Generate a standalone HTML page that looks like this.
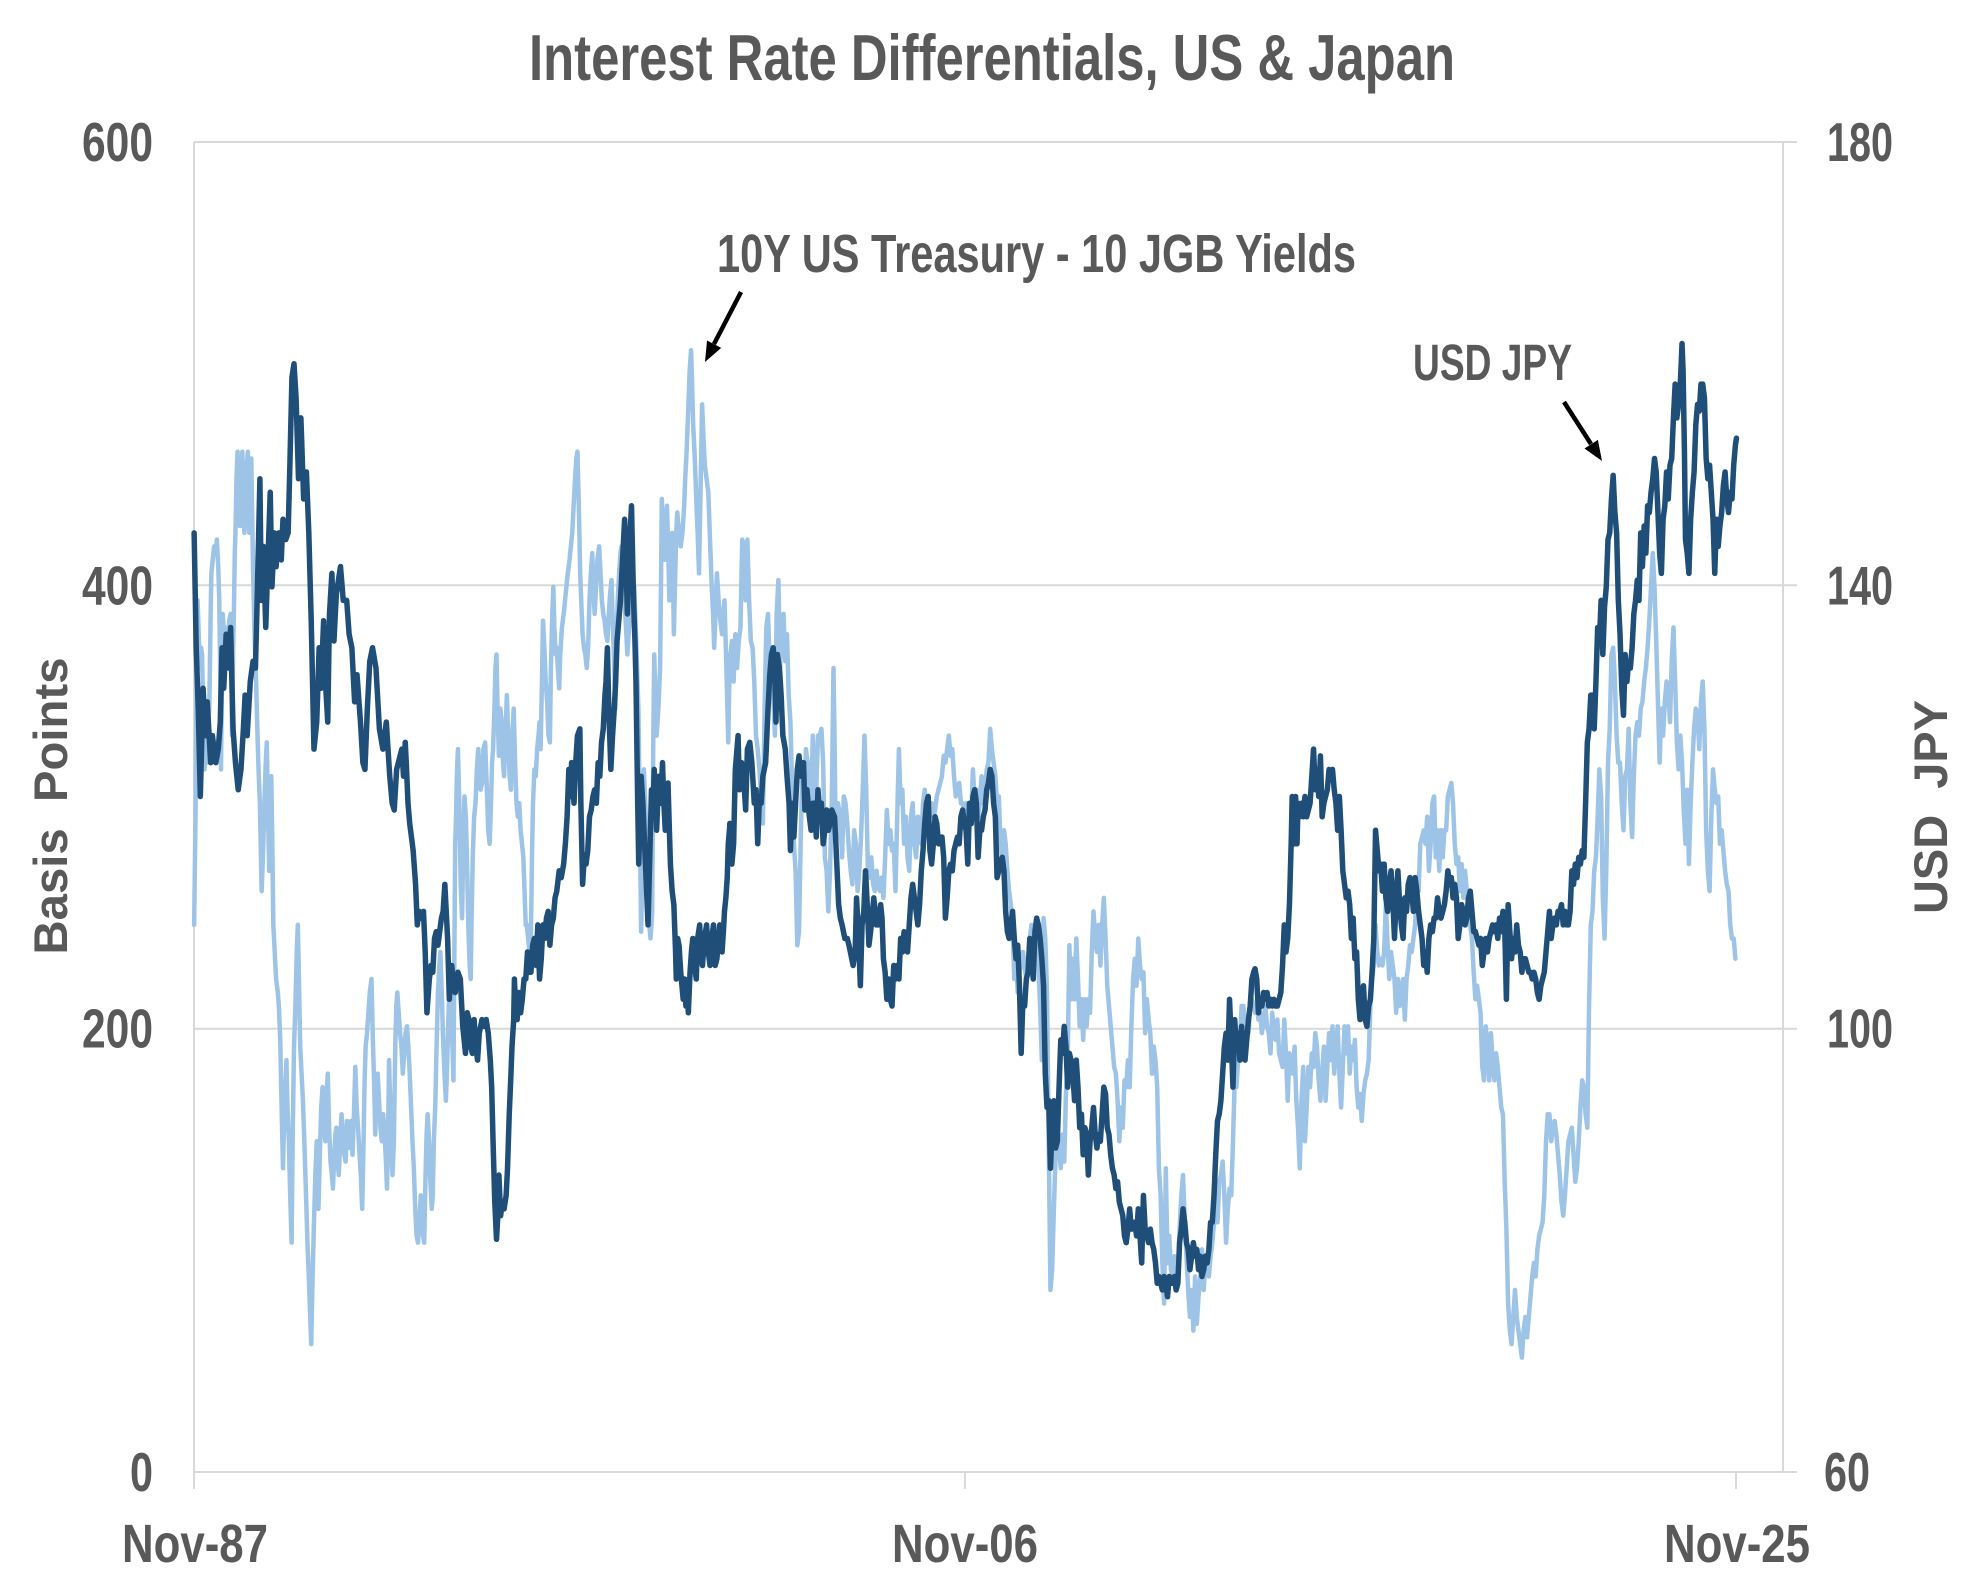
<!DOCTYPE html>
<html>
<head>
<meta charset="utf-8">
<style>
html,body{margin:0;padding:0;background:#fff;}
svg{display:block;}
text{font-family:"Liberation Sans Narrow","Liberation Sans",Arial,sans-serif;fill:#595959;font-weight:bold;}
.ax{font-family:"Liberation Sans",Arial,sans-serif;font-weight:bold;white-space:pre;}
</style>
</head>
<body>
<svg width="1978" height="1588" viewBox="0 0 1978 1588" xmlns="http://www.w3.org/2000/svg">
<rect width="1978" height="1588" fill="#fff"/>

<!-- gridlines and axes -->
<g stroke="#D9D9D9" stroke-width="2" fill="none">
<line x1="194" y1="142" x2="1797" y2="142"/>
<line x1="194" y1="585.3" x2="1797" y2="585.3"/>
<line x1="194" y1="1028.7" x2="1797" y2="1028.7"/>
<line x1="194" y1="1472" x2="1797" y2="1472"/>
<line x1="194" y1="142" x2="194" y2="1489"/>
<line x1="1783" y1="142" x2="1783" y2="1472"/>
<line x1="965" y1="1472" x2="965" y2="1489"/>
<line x1="1736" y1="1472" x2="1736" y2="1489"/>
</g>

<!-- light series: 10Y UST - JGB -->
<g fill="none" stroke="#9DC3E6" stroke-width="4.5" stroke-linejoin="round" stroke-linecap="round">
<g transform="translate(190,330) scale(0.344384,0.676048)">
<polyline vector-effect="non-scaling-stroke" points="12,880 16,720 20,450 22,400 26,460 28,500 32,470 35,480 38,560 42,650 46,600 50,640 53,580 56,560 60,420 62,360 66,340 70,320 74,330 78,310 82,350 85,400 88,520 90,650 93,500 95,420 99,450 102,440 106,500 110,470 114,430 118,420 120,500 122,600 125,480 128,400 130,330 132,300 135,220 138,180 142,260 145,290 148,230 152,180 155,260 158,300 160,270 162,250 165,200 168,180 170,230 172,300 175,240 178,190 180,260 183,350 186,420 188,460 192,520 195,580 199,650 203,700 206,780 208,830 211,790 213,760 216,700 220,640 223,610 226,700 230,800 233,740 236,660 239,760 242,880 246,920 250,960 255,980 258,1000 262,1050 266,1150 270,1240 274,1150 277,1120 280,1080 283,1150 287,1200 291,1280 295,1350 298,1200 302,1060 306,1000 310,920 313,880 316,950 320,1060 324,1100 328,1140 332,1200 337,1280 341,1350 345,1400 349,1460 352,1500 356,1400 360,1320 364,1250 368,1200 371,1270 373,1300 377,1220 381,1150 385,1120 389,1180 393,1200 397,1130 400,1100 404,1180 408,1230 412,1250 415,1270 419,1220 422,1190 425,1180 429,1230 432,1250 436,1200 440,1160 444,1190 448,1220 452,1230 456,1170 460,1180 464,1210 468,1170 472,1220 476,1160 480,1090 484,1150 488,1180 491,1210 496,1250 500,1300 504,1200 507,1110 510,1060 514,1040 518,1010 522,980 527,960 531,1050 535,1120 538,1190 542,1120 545,1100 549,1140 553,1180 557,1200 561,1160 565,1190 569,1230 572,1270 575,1200 578,1080 581,1140 584,1200 588,1250 592,1200 596,1060 599,1000 602,980 606,1010 610,1040 614,1060 618,1100 622,1070 626,1040 630,1030 634,1060 638,1100 642,1150 646,1200 650,1240 654,1300 658,1340 662,1350 666,1320 670,1280 673,1300 677,1340 680,1350 684,1250 687,1190 690,1160 694,1200 698,1260 702,1300 705,1280 708,1200 712,1150 716,1060 720,980 724,940 727,920 731,980 735,1050 739,1100 743,1140 746,1100 750,1020 753,980 757,960 761,1040 765,1110 768,900 770,760 772,730 775,660 778,620 782,700 786,820 790,870 794,750 797,690 801,720 805,800 808,880 812,940 815,960 818,860 821,780 825,720 829,700 833,650 837,620 840,650 844,680 848,670 852,620 857,610 862,680 866,740 870,760 874,700 877,640 880,620 884,560 887,500 890,480 893,560 897,630 901,560 905,580 909,640 912,660 916,600 920,540 924,600 928,660 932,680 936,600 940,560 944,640 948,700 952,720 956,700 960,740 964,760 968,780 972,840 975,880 978,880 982,900 986,920 990,890 993,780 996,700 1000,650 1004,660 1008,620 1012,600 1015,580 1018,620 1022,520 1025,430 1029,470 1033,520 1037,550 1041,600 1045,610 1048,500 1052,420 1055,380 1058,440 1062,480 1065,470 1068,500 1072,530 1075,480 1080,440 1085,420 1089,400 1093,380 1097,360 1102,340 1106,320 1110,300 1114,260 1118,220 1122,190 1125,180 1129,260 1133,360 1136,400 1140,450 1144,470 1148,480 1152,500 1156,470 1160,400 1164,360 1168,330 1171,380 1175,420 1179,380 1183,340 1188,320 1192,360 1196,400 1200,420 1204,430 1208,450 1212,460 1216,420 1220,390 1224,370 1228,440 1232,500 1235,560 1238,480 1242,400 1246,360 1250,330 1253,320 1257,360 1262,400 1266,440 1270,480 1275,440 1280,410 1285,400 1290,380 1295,450 1302,560 1306,720 1310,890 1314,780 1318,650 1322,700 1326,760 1330,820 1334,880 1337,900 1340,880 1342,860 1345,620 1348,480 1351,540 1355,600 1360,560 1365,500 1368,360 1370,250 1374,300 1378,340 1381,300 1385,260 1389,330 1392,400 1396,340 1400,300 1403,380 1405,450 1409,360 1412,300 1415,270 1420,300 1425,320 1430,300 1435,260 1438,220 1442,180 1445,140 1448,100 1451,60 1455,30 1458,80 1461,140 1465,180 1468,220 1470,250 1474,300 1478,360 1482,250 1487,110 1491,160 1495,200 1500,220 1505,240 1510,310 1515,380 1519,420 1522,470 1526,420 1530,360 1535,400 1540,430 1545,450 1549,420 1552,400 1556,470 1560,550 1563,610 1566,520 1568,480"/>
</g>
<g transform="translate(725,330) scale(0.344384,0.676048)">
<polyline vector-effect="non-scaling-stroke" points="14,490 20,460 25,520 30,450 35,500 40,460 45,440 50,310 55,320 60,400 65,310 70,400 75,460 80,470 85,520 90,600 95,620 100,650 105,690 110,730 115,560 120,440 125,420 130,500 135,470 140,540 145,600 150,420 155,370 160,500 165,430 170,420 175,490 180,450 185,540 190,580 195,680 200,760 205,800 210,910 215,890 220,750 225,640 230,700 235,620 240,640 245,680 250,700 255,600 260,700 265,680 270,600 275,600 280,590 285,640 290,780 295,800 300,860 305,800 310,700 315,500 318,600 322,780 328,700 335,720 340,780 345,690 350,700 355,730 360,770 365,800 370,820 375,740 380,760 385,830 390,800 395,750 400,680 405,600 410,680 415,800 420,810 425,780 430,820 435,830 440,800 445,820 450,830 455,810 460,840 465,780 470,710 475,760 480,740 485,770 490,760 495,830 500,720 505,620 510,700 515,680 520,760 525,720 530,780 535,800 540,720 545,700 550,760 555,780 560,720 565,740 570,760 575,700 580,680 585,720 590,700 595,720 600,700 605,720 610,710 615,690 620,680 625,670 630,660 635,630 640,640 645,620 650,600 655,630 660,620 665,660 670,690 675,680 680,670 685,700 690,700 695,720 700,700 705,720 710,700 715,720 720,650 725,700 730,680 735,720 740,700 745,660 750,700 755,680 760,650 765,640 770,590 775,620 780,640 785,660 790,700 795,690 800,760 805,780 810,740 815,760 820,800 825,830 830,850 835,880 840,960 845,930 850,980 855,950 860,940 865,920 870,940 875,960 880,930 885,900 890,880 895,920 900,900 905,920 910,940 915,1000 920,1080 925,870 930,900 935,980 940,1200 945,1420 950,1390 955,1300 960,1220 965,1200 970,1210 975,1240 980,1190 985,1230 990,1130 995,1080 1000,910 1005,990 1010,930 1015,990 1020,900 1025,960 1030,1030 1035,990 1040,1050 1045,990 1050,1030 1055,990 1060,1010 1065,920 1070,860 1075,900 1080,920 1085,880 1090,940 1095,880 1100,840 1105,900 1110,970 1115,1000 1120,1030 1125,1060 1130,1090 1135,1100 1140,1140 1145,1200 1150,1150 1155,1180 1160,1110 1165,1120 1170,1080 1175,1120 1180,1030 1185,960 1190,930 1195,970 1200,900 1205,940 1210,960 1215,950 1220,1040 1225,990 1230,1020 1235,1040 1240,1100 1245,1060 1250,1080 1255,1120 1260,1240 1265,1280 1270,1380 1275,1440 1280,1240 1285,1380 1290,1340 1295,1390 1300,1400 1305,1370 1310,1400 1315,1390 1320,1330 1325,1280 1330,1250 1335,1320 1340,1370 1345,1420 1350,1460 1355,1420 1360,1480 1365,1400 1370,1470 1375,1430 1380,1400 1385,1360 1390,1420 1395,1380 1400,1390 1405,1400 1410,1370 1415,1350 1420,1320 1425,1300 1430,1320 1435,1260 1440,1250 1445,1230 1450,1280 1455,1350 1460,1300 1465,1270 1470,1280 1475,1200 1480,1110 1485,1120 1490,1080 1495,1060 1500,1000 1505,1000 1510,1030 1515,1020 1520,1040 1525,1000 1530,990 1539,1010"/>
</g>
<g transform="translate(1255,330) scale(0.344384,0.676048)">
<polyline vector-effect="non-scaling-stroke" points="0,1010 5,1000 10,1020 15,1010 20,1040 25,1020 30,1000 35,1030 40,1040 45,1070 50,1010 55,1040 60,1050 65,1020 70,1070 75,1080 80,1090 85,1020 90,1070 95,1140 100,1070 105,1090 110,1100 115,1060 120,1140 125,1180 130,1240 135,1140 140,1090 145,1200 150,1150 155,1090 160,1120 165,1070 170,1090 175,1040 180,1060 185,1110 190,1140 195,1100 200,1060 205,1140 210,1090 215,1040 220,1080 225,1030 230,1100 235,1060 240,1030 245,1100 250,1150 255,1090 260,1030 265,1070 270,1030 275,1100 280,1060 285,1080 290,1050 295,1120 300,1150 305,1130 310,1170 315,1130 320,1110 325,1100 330,1080 335,1000 340,960 345,940 350,880 355,920 360,940 365,930 370,940 375,920 380,850 385,910 390,960 395,920 400,940 405,960 410,1010 415,960 420,1000 425,980 430,960 435,1020 440,960 445,940 450,910 455,920 460,900 465,880 470,820 475,830 480,760 485,750 490,740 495,760 500,720 505,800 510,760 515,700 520,690 525,780 530,740 535,800 540,740 545,780 550,740 555,740 560,690 565,680 570,670 575,700 580,760 585,790 590,780 595,830 600,790 605,840 610,800 615,830 620,860 625,880 630,900 635,950 640,990 645,970 650,990 655,1010 660,1090 665,1110 670,1030 675,1060 680,1110 685,1040 690,1080 695,1110 700,1070 705,1090 710,1120 715,1150 720,1160 725,1260 730,1330 735,1440 740,1480 745,1500 750,1460 755,1420 760,1460 765,1480 770,1500 775,1520 780,1480 785,1460 790,1490 795,1460 800,1430 805,1400 810,1380 815,1400 820,1360 825,1340 830,1330 835,1320 840,1280 845,1200 850,1160 855,1160 860,1200 865,1180 870,1170 875,1190 880,1220 885,1250 890,1290 895,1310 900,1280 905,1240 910,1200 915,1190 920,1180 925,1220 930,1260 935,1240 940,1200 945,1150 950,1110 955,1120 960,1160 965,1180 970,1000 975,880 980,860 985,800 990,780 995,720 1000,650 1005,690 1010,840 1015,900 1020,800 1025,640 1030,590 1035,480 1040,470 1045,520 1050,600 1055,640 1060,640 1065,700 1070,740 1075,660 1080,650 1085,590 1090,700 1095,750 1100,660 1105,600 1110,580 1115,600 1120,560 1125,550 1130,520 1135,500 1140,470 1145,430 1150,380 1155,330 1160,380 1165,460 1170,550 1175,640 1180,560 1185,600 1190,550 1195,520 1200,530 1205,580 1210,490 1215,440 1220,520 1225,610 1230,650 1235,600 1240,640 1245,710 1250,760 1255,680 1260,790 1265,700 1270,640 1275,590 1280,560 1285,570 1290,620 1295,550 1300,520 1305,590 1310,740 1315,800 1320,830 1325,720 1330,650 1335,680 1340,700 1345,690 1350,760 1355,740 1360,770 1365,800 1370,820 1375,830 1380,880 1385,900 1390,900 1395,930"/>
</g>
</g>

<!-- dark series: USD JPY -->
<g fill="none" stroke="#1F4E79" stroke-width="5.5" stroke-linejoin="round" stroke-linecap="round">
<g transform="translate(190,330) scale(0.344384,0.676048)">
<polyline vector-effect="non-scaling-stroke" points="12,300 18,470 24,560 30,690 38,530 45,600 50,550 60,640 65,600 75,640 82,620 88,580 93,470 98,530 105,450 112,500 118,440 125,590 132,640 140,680 148,650 155,590 160,540 166,600 175,520 183,490 190,500 195,400 203,220 207,400 213,320 220,440 227,330 233,240 238,380 245,300 250,350 258,300 265,340 270,280 278,310 285,300 290,200 296,70 302,50 308,100 315,220 322,130 330,250 338,210 345,300 352,430 360,620 368,580 375,470 380,530 388,430 392,510 400,580 405,420 412,360 418,460 425,390 437,350 445,400 455,400 462,450 470,470 478,550 485,510 495,580 502,640 508,650 515,560 522,490 530,470 540,500 550,590 560,620 570,580 580,660 587,700 593,710 600,650 605,640 615,620 620,660 625,610 628,640 633,700 638,730 648,770 655,820 660,880 665,860 672,870 678,860 683,920 688,1010 695,960 700,940 705,950 710,900 715,890 720,910 725,890 730,870 735,860 740,820 744,860 748,900 753,990 760,940 765,970 770,980 778,950 785,960 792,1030 800,1070 805,1010 810,1020 815,1060 820,1070 825,1020 830,1060 835,1080 840,1040 848,1020 855,1030 860,1020 866,1040 872,1080 876,1120 880,1200 885,1290 890,1345 895,1300 897,1250 902,1310 907,1290 912,1300 918,1280 922,1240 927,1160 932,1100 935,1060 940,1020 942,960 946,1010 950,1020 955,980 960,1010 965,990 970,960 975,960 980,920 985,950 990,950 995,910 1000,900 1005,940 1010,880 1015,960 1020,930 1025,880 1030,900 1035,870 1040,860 1045,910 1050,880 1055,870 1060,840 1065,830 1072,800 1078,810 1085,790 1090,760 1095,720 1100,650 1105,690 1108,640 1112,670 1115,700 1120,640 1125,600 1132,590 1135,700 1140,820 1145,780 1150,790 1155,770 1160,720 1165,710 1170,690 1175,680 1180,700 1185,640 1190,660 1195,610 1200,590 1205,540 1208,520 1212,470 1216,560 1222,650 1227,600 1232,560 1236,520 1240,460 1245,430 1250,400 1256,340 1262,280 1266,340 1270,420 1275,330 1282,260 1285,330 1288,400 1292,460 1295,520 1300,700 1303,790 1307,720 1310,660 1315,700 1320,760 1325,820 1330,880 1335,780 1340,680 1345,700 1348,650 1352,700 1355,740 1358,700 1362,660 1367,700 1372,640 1376,700 1380,740 1384,700 1388,670 1392,740 1395,790 1400,830 1405,850 1410,920 1412,960 1416,900 1420,910 1425,950 1432,990 1436,960 1440,1000 1444,980 1447,1010 1452,950 1456,920 1460,900 1465,940 1470,960 1474,900 1480,880 1484,920 1488,940 1494,900 1500,880 1505,920 1510,940 1515,900 1520,880 1525,940 1530,930 1535,900 1538,880 1542,900 1545,920 1550,880 1552,860 1556,840 1560,810 1563,760 1568,730"/>
</g>
<g transform="translate(725,330) scale(0.344384,0.676048)">
<polyline vector-effect="non-scaling-stroke" points="14,730 20,790 25,760 30,650 38,600 42,680 48,640 55,670 60,710 65,620 72,610 78,640 85,700 90,680 95,760 100,690 105,700 110,660 118,640 125,560 130,510 135,480 140,470 145,520 148,580 152,480 158,500 163,540 168,600 175,620 180,660 186,700 190,770 195,700 200,750 205,700 210,650 215,630 220,660 228,640 232,710 238,680 245,720 250,740 255,700 260,700 265,750 270,680 275,720 280,700 285,760 290,740 295,710 300,740 305,730 310,710 318,720 322,760 330,850 335,870 340,880 348,900 355,900 360,910 368,930 372,940 378,920 382,840 388,900 393,970 398,880 403,860 408,800 413,850 418,910 425,880 432,840 440,880 445,880 452,850 456,870 460,930 465,950 470,990 475,960 480,990 485,1000 490,940 495,960 500,940 505,960 510,900 515,920 520,890 525,910 530,920 535,880 540,840 545,820 550,840 555,860 560,880 565,850 570,800 575,770 580,730 585,700 590,690 595,770 600,790 605,760 610,720 615,730 620,760 625,760 630,750 635,780 640,870 645,840 650,800 655,790 660,800 665,770 670,760 675,750 680,760 685,720 690,710 695,730 700,740 705,790 710,700 715,730 720,690 725,680 730,700 735,780 740,740 745,740 750,720 755,710 760,680 765,670 770,650 775,660 780,700 785,720 790,810 795,800 800,790 805,780 810,800 815,860 820,890 825,900 830,880 835,860 840,900 845,930 850,910 855,970 860,1070 865,990 870,1000 875,960 880,950 885,900 890,920 895,960 900,890 905,870 910,880 915,900 920,930 925,970 930,1100 935,1150 940,1140 945,1240 950,1180 955,1140 960,1210 965,1200 970,1120 975,1050 980,1070 985,1030 990,1060 995,1120 1000,1070 1005,1080 1010,1100 1015,1140 1020,1080 1025,1120 1030,1180 1035,1160 1040,1220 1045,1180 1050,1190 1055,1250 1060,1200 1065,1180 1070,1150 1075,1190 1080,1210 1085,1190 1090,1200 1095,1160 1100,1120 1105,1130 1110,1180 1115,1190 1120,1220 1125,1240 1130,1250 1135,1270 1140,1260 1145,1290 1150,1300 1155,1310 1160,1340 1165,1350 1170,1330 1175,1300 1180,1330 1185,1320 1190,1320 1195,1340 1200,1300 1205,1340 1210,1380 1215,1280 1220,1330 1225,1340 1230,1350 1235,1330 1240,1350 1245,1360 1250,1380 1255,1410 1260,1400 1265,1410 1270,1420 1275,1400 1280,1410 1285,1430 1290,1400 1295,1410 1300,1410 1305,1400 1310,1420 1315,1410 1320,1350 1325,1330 1330,1300 1335,1320 1340,1350 1345,1360 1350,1390 1355,1370 1360,1350 1365,1370 1370,1360 1375,1390 1380,1370 1385,1400 1390,1390 1395,1370 1400,1380 1405,1360 1410,1320 1415,1320 1420,1280 1425,1220 1430,1170 1435,1160 1440,1140 1445,1100 1450,1060 1455,1040 1460,1080 1465,990 1470,1050 1475,1120 1480,1020 1485,1060 1490,1040 1495,1080 1500,1030 1505,1060 1510,1080 1515,1050 1520,1020 1525,1000 1530,960 1535,950 1539,945"/>
</g>
<g transform="translate(1255,330) scale(0.344384,0.676048)">
<polyline vector-effect="non-scaling-stroke" points="0,945 5,960 10,1010 15,990 20,1000 25,980 30,990 35,980 40,1000 45,990 50,1000 55,990 60,1000 65,1000 70,990 75,980 80,940 85,880 90,920 95,900 100,850 105,760 108,690 112,720 115,760 118,690 122,760 125,700 130,720 135,700 140,720 145,690 150,720 155,710 160,700 165,660 170,620 175,680 180,650 185,690 190,630 195,720 200,700 205,690 210,680 215,650 220,660 225,650 230,680 235,700 240,740 245,690 250,740 255,800 260,820 265,840 270,830 275,850 280,900 285,870 290,930 295,920 300,990 305,1020 310,980 315,970 320,1020 325,1030 330,1000 335,990 340,950 345,900 350,740 355,770 360,800 365,790 370,830 375,790 380,840 385,860 390,820 395,800 400,840 405,900 410,840 415,800 420,850 425,880 430,900 435,840 440,860 445,820 450,810 455,830 460,860 465,810 470,830 475,860 480,880 485,900 490,940 495,920 500,950 505,900 510,880 515,890 520,870 525,870 530,840 535,860 540,870 545,860 550,850 555,830 560,800 565,820 570,810 575,840 580,820 585,840 590,900 595,880 600,850 605,860 610,880 615,870 620,840 625,830 630,860 635,890 640,890 645,900 650,910 655,900 660,940 665,920 670,900 675,920 680,900 685,890 690,880 695,890 700,880 705,900 710,870 715,890 720,860 725,880 730,990 735,850 740,890 745,930 750,900 755,920 760,880 765,910 770,920 775,950 780,930 785,930 790,940 795,950 800,950 805,960 810,950 815,960 820,980 825,990 830,970 835,960 840,950 845,920 850,890 855,860 860,900 865,880 870,870 875,880 880,860 885,860 890,850 895,880 900,860 905,880 910,880 915,860 920,800 925,820 930,790 935,810 940,780 945,790 950,770 955,780 960,700 965,610 970,590 975,540 980,540 985,590 990,520 995,440 1000,460 1005,400 1010,480 1015,410 1020,380 1025,310 1030,300 1035,250 1040,215 1045,270 1050,300 1055,400 1060,450 1065,530 1070,570 1075,480 1080,520 1085,490 1090,500 1095,470 1100,420 1105,400 1110,370 1115,400 1120,300 1125,350 1130,290 1135,330 1140,260 1145,270 1150,240 1155,220 1160,190 1165,210 1170,270 1175,330 1180,360 1185,280 1190,260 1195,210 1200,250 1205,200 1210,190 1215,130 1220,80 1225,130 1230,110 1235,80 1240,20 1243,60 1247,180 1250,310 1255,330 1260,360 1265,280 1270,240 1275,210 1280,140 1285,110 1290,120 1295,80 1300,80 1305,100 1310,190 1315,220 1320,200 1325,240 1330,280 1335,360 1340,280 1345,320 1350,290 1355,270 1360,230 1365,210 1370,250 1375,270 1380,240 1385,250 1390,200 1395,170 1398,160"/>
</g>
</g>

<!-- title -->
<text x="529" y="80" font-size="65" textLength="926" lengthAdjust="spacingAndGlyphs">Interest Rate Differentials, US &amp; Japan</text>

<!-- left tick labels -->
<g font-size="55">
<text x="82" y="161" textLength="71" lengthAdjust="spacingAndGlyphs">600</text>
<text x="82" y="604.3" textLength="71" lengthAdjust="spacingAndGlyphs">400</text>
<text x="82" y="1047.7" textLength="71" lengthAdjust="spacingAndGlyphs">200</text>
<text x="130" y="1491" textLength="23" lengthAdjust="spacingAndGlyphs">0</text>
</g>

<!-- right tick labels -->
<g font-size="55">
<text x="1827" y="161" textLength="66" lengthAdjust="spacingAndGlyphs">180</text>
<text x="1827" y="604.3" textLength="66" lengthAdjust="spacingAndGlyphs">140</text>
<text x="1827" y="1047.7" textLength="66" lengthAdjust="spacingAndGlyphs">100</text>
<text x="1824" y="1491" textLength="46" lengthAdjust="spacingAndGlyphs">60</text>
</g>

<!-- x labels -->
<g font-size="54">
<text x="122" y="1562" textLength="146" lengthAdjust="spacingAndGlyphs">Nov-87</text>
<text x="892" y="1562" textLength="146" lengthAdjust="spacingAndGlyphs">Nov-06</text>
<text x="1664" y="1562" textLength="146" lengthAdjust="spacingAndGlyphs">Nov-25</text>
</g>

<!-- axis titles -->
<text class="ax" transform="translate(67,806) rotate(-90)" text-anchor="middle" font-size="47" textLength="297" lengthAdjust="spacingAndGlyphs">Basis  Points</text>
<text class="ax" transform="translate(1947,807) rotate(-90)" text-anchor="middle" font-size="47" textLength="214" lengthAdjust="spacingAndGlyphs">USD  JPY</text>

<!-- annotations -->
<text x="717" y="272" font-size="54" textLength="639" lengthAdjust="spacingAndGlyphs">10Y US Treasury - 10 JGB Yields</text>
<text x="1413" y="380" font-size="51" textLength="159" lengthAdjust="spacingAndGlyphs">USD JPY</text>

<g stroke="#000" stroke-width="4.5" fill="#000">
<line x1="741" y1="292" x2="714" y2="344"/>
<polygon stroke="none" points="705,362 721.2,347.9 707,340.5"/>
<line x1="1564" y1="402" x2="1591" y2="444"/>
<polygon stroke="none" points="1602,461 1584.5,448.5 1597.9,439.9"/>
</g>
</svg>
</body>
</html>
